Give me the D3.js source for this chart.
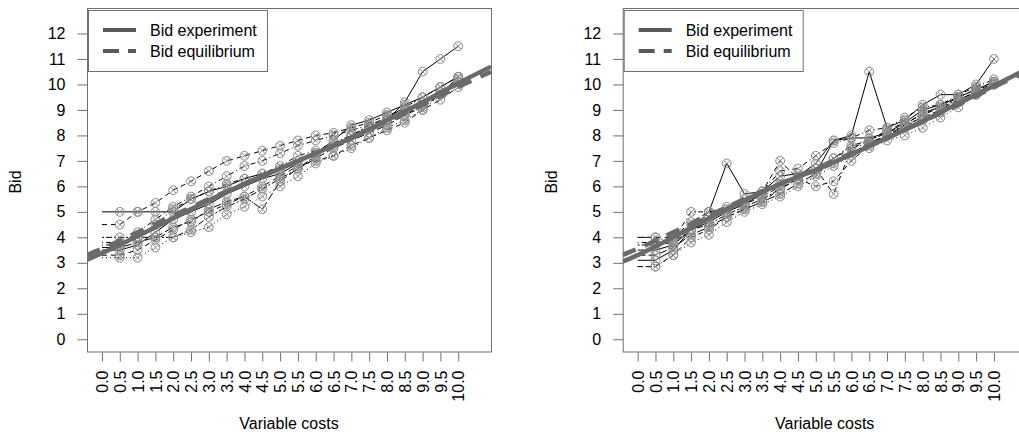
<!DOCTYPE html>
<html>
<head>
<meta charset="utf-8">
<script src="https://cdn.jsdelivr.net/npm/d3@7"></script>
<style>
  html, body { margin: 0; padding: 0; background: #fff; }
  svg { display: block; font-family: "Liberation Sans", Arial, sans-serif; }
</style>
</head>
<body>
<svg id="chart" width="1019" height="435"></svg>
<script>
// ---------- DATA ----------
const costs = [0, 0.5, 1, 1.5, 2, 2.5, 3, 3.5, 4, 4.5, 5, 5.5, 6, 6.5, 7, 7.5, 8, 8.5, 9, 9.5, 10];
const costLabels = ["0.0","0.5","1.0","1.5","2.0","2.5","3.0","3.5","4.0","4.5","5.0","5.5","6.0","6.5","7.0","7.5","8.0","8.5","9.0","9.5","10.0"];
const bidTicks = [0,1,2,3,4,5,6,7,8,9,10,11,12];
const legendLabels = ["Bid experiment", "Bid equilibrium"];

// Left panel: individual bids
const left1 = [5.0,5.0,5.0,5.0,5.0,5.5,5.8,6.0,6.3,6.5,6.7,7.0,7.3,7.6,8.0,8.3,8.6,9.3,10.5,11.0,11.5];
const left2 = [4.5,4.5,5.0,5.35,5.85,6.2,6.6,7.0,7.2,7.4,7.6,7.8,8.0,8.1,8.3,8.5,8.8,9.0,9.3,9.7,10.2];
const left3 = [3.2,3.2,3.2,3.6,4.0,4.2,4.4,4.9,5.2,5.6,6.0,6.4,6.9,7.2,7.5,7.9,8.3,8.6,9.0,9.6,10.0];
const left4 = [3.8,3.8,4.0,4.5,5.1,5.5,5.8,6.1,6.3,6.5,6.8,7.2,7.4,7.7,8.0,8.3,8.6,8.9,9.2,9.6,10.3];
const left5 = [3.6,3.6,3.8,4.0,4.4,4.6,5.1,5.4,5.6,5.1,6.2,6.7,7.1,7.5,7.8,8.1,8.4,8.8,9.2,9.7,10.1];
const left6 = [4.0,4.0,4.0,4.0,4.0,4.3,4.8,5.2,5.5,5.9,6.3,6.7,7.2,7.6,8.0,8.4,8.7,9.1,9.5,9.9,10.3];
const left7 = [3.5,3.5,3.7,4.2,4.7,5.0,5.3,5.7,6.0,6.3,6.5,6.9,7.3,7.8,8.4,8.6,8.9,9.2,9.5,9.9,10.3];
const left8 = [3.3,3.3,3.5,3.9,4.3,4.7,5.0,5.3,5.6,6.0,6.4,6.8,7.0,7.2,7.6,7.9,8.2,8.5,9.0,9.4,9.9];
const left9 = [3.7,3.7,4.2,4.7,5.2,5.6,6.0,6.4,6.8,7.0,7.3,7.6,7.8,8.0,8.2,8.4,8.6,8.8,9.1,9.6,10.1];

// Right panel: individual bids
const right1 = [3.5,3.5,3.7,4.3,5.0,6.9,5.7,5.8,6.4,6.5,6.5,7.8,7.9,7.9,8.1,8.5,9.0,9.2,9.5,9.8,10.1];
const right2 = [3.1,3.1,3.5,4.3,4.6,5.0,5.3,5.7,6.1,6.4,6.9,7.8,8.0,10.5,8.3,8.6,9.2,9.6,9.6,10.0,11.0];
const right3 = [4.0,4.0,4.0,4.6,5.0,5.2,5.3,5.8,7.0,6.3,6.0,6.2,7.0,7.6,8.0,8.3,8.6,8.9,9.3,9.6,10.0];
const right4 = [2.85,2.85,3.3,3.8,4.1,4.6,5.0,5.3,5.6,6.0,6.4,6.8,7.2,7.5,7.8,8.0,8.3,8.7,9.1,9.6,10.0];
const right5 = [4.0,4.0,3.8,4.5,4.8,5.0,5.3,5.6,6.0,6.3,6.7,5.7,7.5,7.7,8.0,8.3,8.8,9.1,9.5,9.8,10.0];
const right6 = [2.85,2.85,3.3,4.0,4.3,4.8,5.1,5.4,5.9,6.3,6.7,7.1,7.5,7.8,8.2,8.5,8.8,9.2,9.5,9.8,10.1];
const right7 = [3.7,3.7,3.8,4.3,4.5,4.9,5.2,5.5,5.9,6.3,6.7,7.1,7.6,7.8,8.1,8.4,8.9,9.1,9.4,9.7,10.0];
const right8 = [3.3,3.3,3.6,4.1,4.4,4.8,5.1,5.4,5.7,6.1,6.5,6.9,7.3,7.7,8.0,8.4,8.7,9.0,9.4,9.7,10.0];
const right9 = [3.8,3.8,3.9,5.0,5.0,5.1,5.5,5.8,6.6,6.7,7.2,7.7,7.9,8.2,8.3,8.7,9.1,9.2,9.6,9.9,10.2];

// Fitted experiment / equilibrium bid curves
const fitCosts = [-0.42, 0, 1, 2, 3, 4, 5, 6, 7, 8, 9, 10, 10.92];
const leftExperiment  = [3.12, 3.38, 4.05, 4.75, 5.45, 6.1, 6.7, 7.3, 7.9, 8.6, 9.3, 10.05, 10.7];
const leftEquilibrium = [3.31, 3.55, 4.2, 4.85, 5.5, 6.1, 6.7, 7.3, 7.9, 8.55, 9.2, 9.9, 10.5];
const rightExperiment  = [3.05, 3.3, 4.0, 4.75, 5.45, 6.1, 6.65, 7.25, 7.9, 8.55, 9.25, 9.95, 10.6];
const rightEquilibrium = [3.31, 3.55, 4.2, 4.85, 5.5, 6.1, 6.7, 7.3, 7.9, 8.55, 9.2, 9.9, 10.5];

// ---------- STYLE ----------
const dashStyles = ["", "5,4", "1,3", "1,3,5,3", "8,3", "2,2,6,2", "", "5,4", "1,3,5,3"];
const axisColor = "#6f6f6f";
const fitColor = "#6a6a6a";
const markerColor = "#8a8a8a";
const fontSize = 16;

const svg = d3.select("#chart");

function drawPanel(cfg) {
  const x = d3.scaleLinear().domain([-0.42, 10.92]).range([cfg.left, cfg.left + 404]);
  const y = d3.scaleLinear().domain([-0.5, 13]).range([352, 8]);
  const g = svg.append("g");

  const clipId = "clip" + cfg.id;
  svg.append("clipPath").attr("id", clipId)
    .append("rect").attr("x", x.range()[0]).attr("y", 8)
    .attr("width", 404).attr("height", 344);

  const plot = g.append("g").attr("clip-path", `url(#${clipId})`);

  // subject lines
  const line = d3.line().x((d, i) => x(costs[i])).y(d => y(d));
  cfg.series.forEach((s, k) => {
    plot.append("path").datum(s)
      .attr("d", line)
      .attr("fill", "none")
      .attr("stroke", "#000")
      .attr("stroke-width", 1)
      .attr("stroke-dasharray", dashStyles[k % dashStyles.length] || null);
  });
  // markers (circle with cross), from the second cost onwards
  const r = 4.4, c = r * 0.7071;
  cfg.series.forEach(s => {
    s.forEach((v, i) => {
      if (i === 0) return;
      const cx = x(costs[i]), cy = y(v);
      const m = plot.append("g").attr("stroke", markerColor).attr("stroke-width", 1).attr("fill", "none");
      m.append("circle").attr("cx", cx).attr("cy", cy).attr("r", r);
      m.append("line").attr("x1", cx - c).attr("y1", cy - c).attr("x2", cx + c).attr("y2", cy + c);
      m.append("line").attr("x1", cx - c).attr("y1", cy + c).attr("x2", cx + c).attr("y2", cy - c);
    });
  });

  // fitted curves
  const fitLine = d3.line().x((d, i) => x(fitCosts[i])).y(d => y(d)).curve(d3.curveMonotoneX);
  plot.append("path").datum(cfg.experiment).attr("d", fitLine)
    .attr("fill", "none").attr("stroke", fitColor).attr("stroke-width", 4.5);
  plot.append("path").datum(cfg.equilibrium).attr("d", fitLine)
    .attr("fill", "none").attr("stroke", fitColor).attr("stroke-width", 4.5)
    .attr("stroke-dasharray", "14,10");

  // box
  g.append("rect").attr("x", x.range()[0] + 0.5).attr("y", 8.5)
    .attr("width", 404).attr("height", 343.5)
    .attr("fill", "none").attr("stroke", axisColor).attr("stroke-width", 1);

  // y axis
  const yAxis = g.append("g").attr("transform", `translate(${x.range()[0] + 0.5},0)`)
    .call(d3.axisLeft(y).tickValues(bidTicks).tickSize(10).tickPadding(12).tickFormat(d3.format("d")));
  yAxis.select(".domain").remove();
  yAxis.selectAll("line").attr("stroke", axisColor);
  yAxis.selectAll("text").attr("font-size", fontSize).attr("fill", "#000")
    .attr("font-family", "Liberation Sans, Arial, sans-serif");

  // x axis (categorical labels at each cost)
  const xAxis = g.append("g").attr("transform", "translate(0,352.5)")
    .call(d3.axisBottom(x).tickValues(costs).tickSize(9).tickFormat((d, i) => costLabels[i]));
  xAxis.select(".domain").remove();
  xAxis.selectAll("line").attr("stroke", axisColor);
  xAxis.selectAll("text")
    .attr("font-size", fontSize).attr("fill", "#000")
    .attr("font-family", "Liberation Sans, Arial, sans-serif")
    .attr("transform", "rotate(-90)")
    .attr("text-anchor", "end")
    .attr("x", -18).attr("y", 0).attr("dy", "0.35em");

  // axis titles
  g.append("text").attr("x", x.range()[0] + 202).attr("y", 429)
    .attr("text-anchor", "middle").attr("font-size", fontSize).text("Variable costs");
  g.append("text")
    .attr("transform", `translate(${x.range()[0] - 66},182) rotate(-90)`)
    .attr("text-anchor", "middle").attr("font-size", fontSize).text("Bid");

  // legend
  const lx = x.range()[0] + 1, ly = 10;
  const lg = g.append("g");
  lg.append("rect").attr("x", lx + 0.5).attr("y", ly + 0.5).attr("width", 179).attr("height", 61)
    .attr("fill", "#fff").attr("stroke", axisColor);
  [0, 1].forEach(k => {
    const yy = ly + 20 + k * 21;
    lg.append("line").attr("x1", lx + 15).attr("x2", lx + 48).attr("y1", yy).attr("y2", yy)
      .attr("stroke", "#5a5a5a").attr("stroke-width", 4)
      .attr("stroke-dasharray", k === 1 ? "16,9" : null);
    lg.append("text").attr("x", lx + 62).attr("y", yy).attr("dy", "0.35em")
      .attr("font-size", fontSize).attr("fill", "#000").text(legendLabels[k]);
  });
}

drawPanel({
  id: "L", left: 87,
  series: [left1, left2, left3, left4, left5, left6, left7, left8, left9],
  experiment: leftExperiment, equilibrium: leftEquilibrium
});
drawPanel({
  id: "R", left: 622.7,
  series: [right1, right3, right4, right5, right8, right7, right2, right6, right9],
  experiment: rightExperiment, equilibrium: rightEquilibrium
});
</script>
</body>
</html>
